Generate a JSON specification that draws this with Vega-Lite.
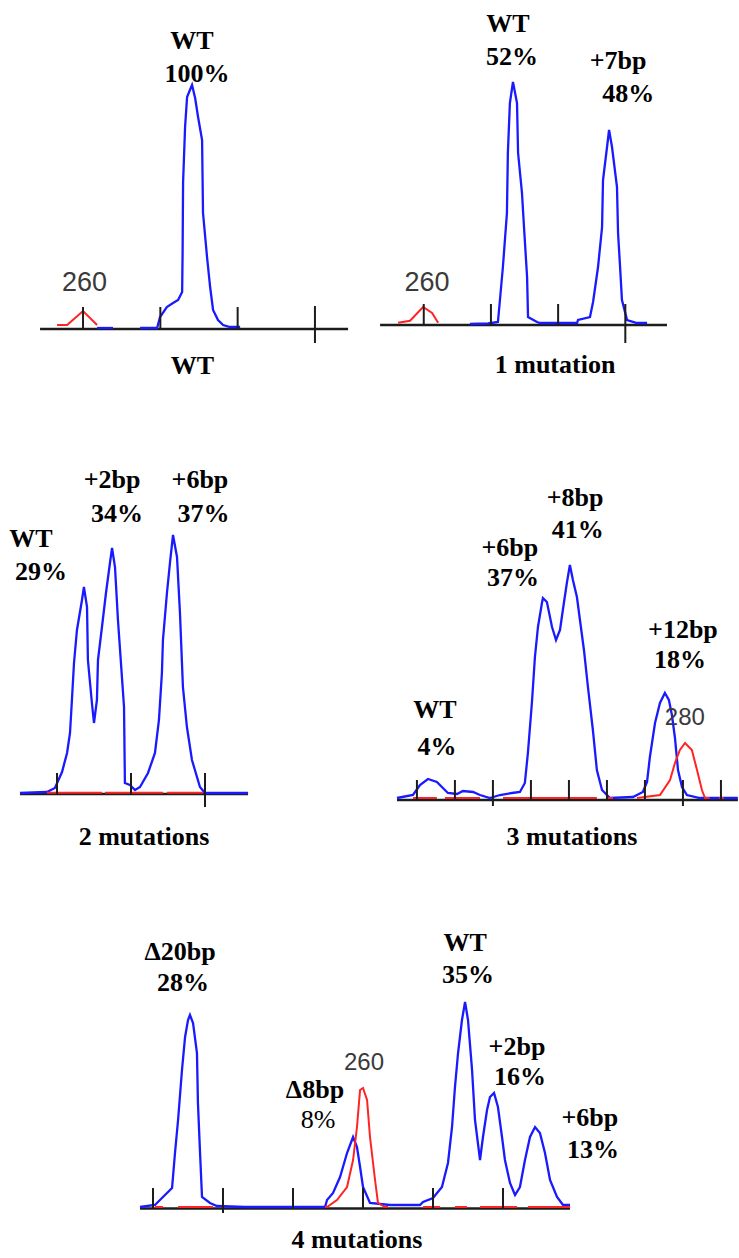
{
  "$schema": "https://vega.github.io/schema/vega-lite/v6.json",
  "padding": 0,
  "spacing": 0,
  "bounds": "flush",
  "columns": 2,
  "config": {"view": {"stroke": null}, "concat": {"spacing": 0}},
  "datasets": {
    "p1": [
      {"kind": "axis", "bp": 257.22, "bp2": 277.14, "rfu": 0},
      {"kind": "tick", "bp": 260, "rfu": 0, "rfu2": 220},
      {"kind": "tick", "bp": 265, "rfu": 0, "rfu2": 220},
      {"kind": "tick", "bp": 270, "rfu": 0, "rfu2": 220},
      {"kind": "tick", "bp": 275, "rfu": -140, "rfu2": 230},
      {"kind": "trace", "dye": "red", "seg": "r1", "bp": 258.32, "rfu": 40},
      {"kind": "trace", "dye": "red", "seg": "r1", "bp": 258.97, "rfu": 40},
      {"kind": "trace", "dye": "red", "seg": "r1", "bp": 260.0, "rfu": 180},
      {"kind": "trace", "dye": "red", "seg": "r1", "bp": 260.91, "rfu": 40},
      {"kind": "trace", "dye": "blue", "seg": "b1a", "bp": 260.91, "rfu": 10},
      {"kind": "trace", "dye": "blue", "seg": "b1a", "bp": 261.94, "rfu": 10},
      {"kind": "trace", "dye": "blue", "seg": "b1b", "bp": 263.69, "rfu": 10},
      {"kind": "trace", "dye": "blue", "seg": "b1b", "bp": 264.79, "rfu": 10},
      {"kind": "trace", "dye": "blue", "seg": "b1b", "bp": 264.98, "rfu": 120},
      {"kind": "trace", "dye": "blue", "seg": "b1b", "bp": 265.42, "rfu": 220},
      {"kind": "trace", "dye": "blue", "seg": "b1b", "bp": 265.82, "rfu": 260},
      {"kind": "trace", "dye": "blue", "seg": "b1b", "bp": 266.15, "rfu": 290},
      {"kind": "trace", "dye": "blue", "seg": "b1b", "bp": 266.41, "rfu": 370},
      {"kind": "trace", "dye": "blue", "seg": "b1b", "bp": 266.44, "rfu": 760},
      {"kind": "trace", "dye": "blue", "seg": "b1b", "bp": 266.47, "rfu": 1460},
      {"kind": "trace", "dye": "blue", "seg": "b1b", "bp": 266.60, "rfu": 2020},
      {"kind": "trace", "dye": "blue", "seg": "b1b", "bp": 266.73, "rfu": 2320},
      {"kind": "trace", "dye": "blue", "seg": "b1b", "bp": 266.86, "rfu": 2370},
      {"kind": "trace", "dye": "blue", "seg": "b1b", "bp": 267.05, "rfu": 2440},
      {"kind": "trace", "dye": "blue", "seg": "b1b", "bp": 267.25, "rfu": 2310},
      {"kind": "trace", "dye": "blue", "seg": "b1b", "bp": 267.44, "rfu": 2120},
      {"kind": "trace", "dye": "blue", "seg": "b1b", "bp": 267.70, "rfu": 1890},
      {"kind": "trace", "dye": "blue", "seg": "b1b", "bp": 267.76, "rfu": 1160},
      {"kind": "trace", "dye": "blue", "seg": "b1b", "bp": 268.02, "rfu": 720},
      {"kind": "trace", "dye": "blue", "seg": "b1b", "bp": 268.22, "rfu": 420},
      {"kind": "trace", "dye": "blue", "seg": "b1b", "bp": 268.41, "rfu": 190},
      {"kind": "trace", "dye": "blue", "seg": "b1b", "bp": 268.73, "rfu": 90},
      {"kind": "trace", "dye": "blue", "seg": "b1b", "bp": 269.06, "rfu": 40},
      {"kind": "trace", "dye": "blue", "seg": "b1b", "bp": 269.51, "rfu": 20},
      {"kind": "trace", "dye": "blue", "seg": "b1b", "bp": 270.16, "rfu": 20},
      {"kind": "std", "bp": 260.1, "rfu": 460, "label": "260"},
      {"kind": "label", "bp": 267.05, "rfu": 2880, "label": "WT"},
      {"kind": "label", "bp": 267.37, "rfu": 2555, "label": "100%"},
      {"kind": "caption", "bp": 267.08, "rfu": -365, "label": "WT"}
    ],
    "p2": [
      {"kind": "axis", "bp": 256.75, "bp2": 278.10, "rfu": 0},
      {"kind": "tick", "bp": 260, "rfu": 0, "rfu2": 210},
      {"kind": "tick", "bp": 265, "rfu": 0, "rfu2": 210},
      {"kind": "tick", "bp": 270, "rfu": 0, "rfu2": 210},
      {"kind": "tick", "bp": 275, "rfu": -180, "rfu2": 210},
      {"kind": "trace", "dye": "red", "seg": "r2", "bp": 258.09, "rfu": 23},
      {"kind": "trace", "dye": "red", "seg": "r2", "bp": 258.98, "rfu": 43},
      {"kind": "trace", "dye": "red", "seg": "r2", "bp": 259.95, "rfu": 180},
      {"kind": "trace", "dye": "red", "seg": "r2", "bp": 260.62, "rfu": 120},
      {"kind": "trace", "dye": "red", "seg": "r2", "bp": 261.07, "rfu": 23},
      {"kind": "trace", "dye": "blue", "seg": "b2", "bp": 263.44, "rfu": 10},
      {"kind": "trace", "dye": "blue", "seg": "b2", "bp": 264.78, "rfu": 15},
      {"kind": "trace", "dye": "blue", "seg": "b2", "bp": 265.52, "rfu": 30},
      {"kind": "trace", "dye": "blue", "seg": "b2", "bp": 265.67, "rfu": 250},
      {"kind": "trace", "dye": "blue", "seg": "b2", "bp": 265.89, "rfu": 580},
      {"kind": "trace", "dye": "blue", "seg": "b2", "bp": 266.19, "rfu": 1120},
      {"kind": "trace", "dye": "blue", "seg": "b2", "bp": 266.26, "rfu": 1720},
      {"kind": "trace", "dye": "blue", "seg": "b2", "bp": 266.41, "rfu": 2220},
      {"kind": "trace", "dye": "blue", "seg": "b2", "bp": 266.64, "rfu": 2430},
      {"kind": "trace", "dye": "blue", "seg": "b2", "bp": 266.94, "rfu": 2220},
      {"kind": "trace", "dye": "blue", "seg": "b2", "bp": 267.02, "rfu": 1720},
      {"kind": "trace", "dye": "blue", "seg": "b2", "bp": 267.31, "rfu": 1320},
      {"kind": "trace", "dye": "blue", "seg": "b2", "bp": 267.46, "rfu": 980},
      {"kind": "trace", "dye": "blue", "seg": "b2", "bp": 267.69, "rfu": 480},
      {"kind": "trace", "dye": "blue", "seg": "b2", "bp": 267.76, "rfu": 80},
      {"kind": "trace", "dye": "blue", "seg": "b2", "bp": 268.43, "rfu": 30},
      {"kind": "trace", "dye": "blue", "seg": "b2", "bp": 268.65, "rfu": 20},
      {"kind": "trace", "dye": "blue", "seg": "b2", "bp": 271.41, "rfu": 20},
      {"kind": "trace", "dye": "blue", "seg": "b2", "bp": 271.48, "rfu": 50},
      {"kind": "trace", "dye": "blue", "seg": "b2", "bp": 272.37, "rfu": 80},
      {"kind": "trace", "dye": "blue", "seg": "b2", "bp": 272.60, "rfu": 230},
      {"kind": "trace", "dye": "blue", "seg": "b2", "bp": 272.97, "rfu": 580},
      {"kind": "trace", "dye": "blue", "seg": "b2", "bp": 273.27, "rfu": 980},
      {"kind": "trace", "dye": "blue", "seg": "b2", "bp": 273.34, "rfu": 1450},
      {"kind": "trace", "dye": "blue", "seg": "b2", "bp": 273.64, "rfu": 1780},
      {"kind": "trace", "dye": "blue", "seg": "b2", "bp": 273.79, "rfu": 1950},
      {"kind": "trace", "dye": "blue", "seg": "b2", "bp": 274.01, "rfu": 1780},
      {"kind": "trace", "dye": "blue", "seg": "b2", "bp": 274.38, "rfu": 1380},
      {"kind": "trace", "dye": "blue", "seg": "b2", "bp": 274.46, "rfu": 920},
      {"kind": "trace", "dye": "blue", "seg": "b2", "bp": 274.61, "rfu": 580},
      {"kind": "trace", "dye": "blue", "seg": "b2", "bp": 274.75, "rfu": 250},
      {"kind": "trace", "dye": "blue", "seg": "b2", "bp": 275.13, "rfu": 50},
      {"kind": "trace", "dye": "blue", "seg": "b2", "bp": 275.87, "rfu": 20},
      {"kind": "trace", "dye": "blue", "seg": "b2", "bp": 276.62, "rfu": 20},
      {"kind": "std", "bp": 260.25, "rfu": 420, "label": "260"},
      {"kind": "label", "bp": 266.27, "rfu": 3010, "label": "WT"},
      {"kind": "label", "bp": 266.57, "rfu": 2680, "label": "52%"},
      {"kind": "label", "bp": 274.46, "rfu": 2645, "label": "+7bp"},
      {"kind": "label", "bp": 275.21, "rfu": 2310, "label": "48%"},
      {"kind": "caption", "bp": 269.77, "rfu": -400, "label": "1 mutation"}
    ],
    "p3": [
      {"kind": "axis", "bp": 262.50, "bp2": 277.91, "rfu": -10},
      {"kind": "tick", "bp": 265, "rfu": -10, "rfu2": 200},
      {"kind": "tick", "bp": 270, "rfu": -10, "rfu2": 200},
      {"kind": "tick", "bp": 275, "rfu": -140, "rfu2": 200},
      {"kind": "trace", "dye": "red", "seg": "r3a", "bp": 264.32, "rfu": 3},
      {"kind": "trace", "dye": "red", "seg": "r3a", "bp": 268.04, "rfu": 3},
      {"kind": "trace", "dye": "red", "seg": "r3b", "bp": 268.24, "rfu": 3},
      {"kind": "trace", "dye": "red", "seg": "r3b", "bp": 272.16, "rfu": 3},
      {"kind": "trace", "dye": "red", "seg": "r3c", "bp": 272.43, "rfu": 3},
      {"kind": "trace", "dye": "red", "seg": "r3c", "bp": 274.86, "rfu": 3},
      {"kind": "trace", "dye": "blue", "seg": "b3", "bp": 262.50, "rfu": 0},
      {"kind": "trace", "dye": "blue", "seg": "b3", "bp": 264.32, "rfu": 10},
      {"kind": "trace", "dye": "blue", "seg": "b3", "bp": 264.86, "rfu": 50},
      {"kind": "trace", "dye": "blue", "seg": "b3", "bp": 265.34, "rfu": 210},
      {"kind": "trace", "dye": "blue", "seg": "b3", "bp": 265.68, "rfu": 400},
      {"kind": "trace", "dye": "blue", "seg": "b3", "bp": 265.88, "rfu": 600},
      {"kind": "trace", "dye": "blue", "seg": "b3", "bp": 266.01, "rfu": 930},
      {"kind": "trace", "dye": "blue", "seg": "b3", "bp": 266.15, "rfu": 1300},
      {"kind": "trace", "dye": "blue", "seg": "b3", "bp": 266.35, "rfu": 1630},
      {"kind": "trace", "dye": "blue", "seg": "b3", "bp": 266.69, "rfu": 1930},
      {"kind": "trace", "dye": "blue", "seg": "b3", "bp": 266.82, "rfu": 2060},
      {"kind": "trace", "dye": "blue", "seg": "b3", "bp": 267.03, "rfu": 1860},
      {"kind": "trace", "dye": "blue", "seg": "b3", "bp": 267.09, "rfu": 1330},
      {"kind": "trace", "dye": "blue", "seg": "b3", "bp": 267.36, "rfu": 900},
      {"kind": "trace", "dye": "blue", "seg": "b3", "bp": 267.50, "rfu": 700},
      {"kind": "trace", "dye": "blue", "seg": "b3", "bp": 267.70, "rfu": 930},
      {"kind": "trace", "dye": "blue", "seg": "b3", "bp": 267.77, "rfu": 1330},
      {"kind": "trace", "dye": "blue", "seg": "b3", "bp": 268.04, "rfu": 1660},
      {"kind": "trace", "dye": "blue", "seg": "b3", "bp": 268.31, "rfu": 2000},
      {"kind": "trace", "dye": "blue", "seg": "b3", "bp": 268.58, "rfu": 2300},
      {"kind": "trace", "dye": "blue", "seg": "b3", "bp": 268.72, "rfu": 2450},
      {"kind": "trace", "dye": "blue", "seg": "b3", "bp": 268.92, "rfu": 2260},
      {"kind": "trace", "dye": "blue", "seg": "b3", "bp": 269.12, "rfu": 1730},
      {"kind": "trace", "dye": "blue", "seg": "b3", "bp": 269.53, "rfu": 860},
      {"kind": "trace", "dye": "blue", "seg": "b3", "bp": 269.59, "rfu": 100},
      {"kind": "trace", "dye": "blue", "seg": "b3", "bp": 269.93, "rfu": 80},
      {"kind": "trace", "dye": "blue", "seg": "b3", "bp": 270.27, "rfu": 30},
      {"kind": "trace", "dye": "blue", "seg": "b3", "bp": 270.61, "rfu": 60},
      {"kind": "trace", "dye": "blue", "seg": "b3", "bp": 271.15, "rfu": 200},
      {"kind": "trace", "dye": "blue", "seg": "b3", "bp": 271.62, "rfu": 400},
      {"kind": "trace", "dye": "blue", "seg": "b3", "bp": 271.89, "rfu": 730},
      {"kind": "trace", "dye": "blue", "seg": "b3", "bp": 272.09, "rfu": 1200},
      {"kind": "trace", "dye": "blue", "seg": "b3", "bp": 272.16, "rfu": 1530},
      {"kind": "trace", "dye": "blue", "seg": "b3", "bp": 272.43, "rfu": 2000},
      {"kind": "trace", "dye": "blue", "seg": "b3", "bp": 272.64, "rfu": 2310},
      {"kind": "trace", "dye": "blue", "seg": "b3", "bp": 272.84, "rfu": 2580},
      {"kind": "trace", "dye": "blue", "seg": "b3", "bp": 273.11, "rfu": 2360},
      {"kind": "trace", "dye": "blue", "seg": "b3", "bp": 273.31, "rfu": 1800},
      {"kind": "trace", "dye": "blue", "seg": "b3", "bp": 273.51, "rfu": 1060},
      {"kind": "trace", "dye": "blue", "seg": "b3", "bp": 273.78, "rfu": 660},
      {"kind": "trace", "dye": "blue", "seg": "b3", "bp": 274.12, "rfu": 330},
      {"kind": "trace", "dye": "blue", "seg": "b3", "bp": 274.66, "rfu": 60},
      {"kind": "trace", "dye": "blue", "seg": "b3", "bp": 275.00, "rfu": 0},
      {"kind": "trace", "dye": "blue", "seg": "b3", "bp": 277.91, "rfu": 0},
      {"kind": "label", "bp": 263.24, "rfu": 2540, "label": "WT"},
      {"kind": "label", "bp": 263.92, "rfu": 2210, "label": "29%"},
      {"kind": "label", "bp": 268.72, "rfu": 3130, "label": "+2bp"},
      {"kind": "label", "bp": 269.05, "rfu": 2790, "label": "34%"},
      {"kind": "label", "bp": 274.66, "rfu": 3130, "label": "+6bp"},
      {"kind": "label", "bp": 274.90, "rfu": 2790, "label": "37%"},
      {"kind": "caption", "bp": 270.88, "rfu": -440, "label": "2 mutations"}
    ],
    "p4": [
      {"kind": "axis", "bp": 264.95, "bp2": 282.89, "rfu": -20},
      {"kind": "tick", "bp": 266, "rfu": -20, "rfu2": 180},
      {"kind": "tick", "bp": 268, "rfu": -20, "rfu2": 180},
      {"kind": "tick", "bp": 270, "rfu": -80, "rfu2": 180},
      {"kind": "tick", "bp": 272, "rfu": -20, "rfu2": 180},
      {"kind": "tick", "bp": 274, "rfu": -20, "rfu2": 180},
      {"kind": "tick", "bp": 276, "rfu": -20, "rfu2": 180},
      {"kind": "tick", "bp": 278, "rfu": -20, "rfu2": 180},
      {"kind": "tick", "bp": 280, "rfu": -80, "rfu2": 180},
      {"kind": "tick", "bp": 282, "rfu": -20, "rfu2": 180},
      {"kind": "trace", "dye": "red", "seg": "r4a", "bp": 265.79, "rfu": 0},
      {"kind": "trace", "dye": "red", "seg": "r4a", "bp": 267.05, "rfu": 0},
      {"kind": "trace", "dye": "red", "seg": "r4b", "bp": 267.47, "rfu": 0},
      {"kind": "trace", "dye": "red", "seg": "r4b", "bp": 269.32, "rfu": 0},
      {"kind": "trace", "dye": "red", "seg": "r4c", "bp": 270.53, "rfu": 0},
      {"kind": "trace", "dye": "red", "seg": "r4c", "bp": 275.47, "rfu": 0},
      {"kind": "trace", "dye": "red", "seg": "r4d", "bp": 276.0, "rfu": 0},
      {"kind": "trace", "dye": "red", "seg": "r4d", "bp": 276.32, "rfu": 0},
      {"kind": "trace", "dye": "red", "seg": "r4e", "bp": 277.58, "rfu": 0},
      {"kind": "trace", "dye": "red", "seg": "r4e", "bp": 278.79, "rfu": 30},
      {"kind": "trace", "dye": "red", "seg": "r4e", "bp": 279.32, "rfu": 180},
      {"kind": "trace", "dye": "red", "seg": "r4e", "bp": 279.58, "rfu": 350},
      {"kind": "trace", "dye": "red", "seg": "r4e", "bp": 279.84, "rfu": 480},
      {"kind": "trace", "dye": "red", "seg": "r4e", "bp": 280.11, "rfu": 550},
      {"kind": "trace", "dye": "red", "seg": "r4e", "bp": 280.47, "rfu": 480},
      {"kind": "trace", "dye": "red", "seg": "r4e", "bp": 280.74, "rfu": 280},
      {"kind": "trace", "dye": "red", "seg": "r4e", "bp": 281.00, "rfu": 80},
      {"kind": "trace", "dye": "red", "seg": "r4e", "bp": 281.16, "rfu": 0},
      {"kind": "trace", "dye": "red", "seg": "r4e", "bp": 281.40, "rfu": 0},
      {"kind": "trace", "dye": "red", "seg": "r4f", "bp": 281.90, "rfu": 0},
      {"kind": "trace", "dye": "red", "seg": "r4f", "bp": 282.15, "rfu": 0},
      {"kind": "trace", "dye": "blue", "seg": "b4", "bp": 264.95, "rfu": 0},
      {"kind": "trace", "dye": "blue", "seg": "b4", "bp": 265.79, "rfu": 30},
      {"kind": "trace", "dye": "blue", "seg": "b4", "bp": 266.16, "rfu": 130},
      {"kind": "trace", "dye": "blue", "seg": "b4", "bp": 266.58, "rfu": 190},
      {"kind": "trace", "dye": "blue", "seg": "b4", "bp": 267.05, "rfu": 160},
      {"kind": "trace", "dye": "blue", "seg": "b4", "bp": 267.63, "rfu": 50},
      {"kind": "trace", "dye": "blue", "seg": "b4", "bp": 268.11, "rfu": 40},
      {"kind": "trace", "dye": "blue", "seg": "b4", "bp": 268.42, "rfu": 70},
      {"kind": "trace", "dye": "blue", "seg": "b4", "bp": 268.95, "rfu": 60},
      {"kind": "trace", "dye": "blue", "seg": "b4", "bp": 269.32, "rfu": 30},
      {"kind": "trace", "dye": "blue", "seg": "b4", "bp": 269.84, "rfu": 0},
      {"kind": "trace", "dye": "blue", "seg": "b4", "bp": 270.37, "rfu": 30},
      {"kind": "trace", "dye": "blue", "seg": "b4", "bp": 271.00, "rfu": 50},
      {"kind": "trace", "dye": "blue", "seg": "b4", "bp": 271.42, "rfu": 60},
      {"kind": "trace", "dye": "blue", "seg": "b4", "bp": 271.68, "rfu": 150},
      {"kind": "trace", "dye": "blue", "seg": "b4", "bp": 271.84, "rfu": 450},
      {"kind": "trace", "dye": "blue", "seg": "b4", "bp": 272.05, "rfu": 950},
      {"kind": "trace", "dye": "blue", "seg": "b4", "bp": 272.21, "rfu": 1410},
      {"kind": "trace", "dye": "blue", "seg": "b4", "bp": 272.37, "rfu": 1710},
      {"kind": "trace", "dye": "blue", "seg": "b4", "bp": 272.58, "rfu": 1950},
      {"kind": "trace", "dye": "blue", "seg": "b4", "bp": 272.63, "rfu": 2000},
      {"kind": "trace", "dye": "blue", "seg": "b4", "bp": 272.84, "rfu": 1960},
      {"kind": "trace", "dye": "blue", "seg": "b4", "bp": 273.11, "rfu": 1710},
      {"kind": "trace", "dye": "blue", "seg": "b4", "bp": 273.32, "rfu": 1580},
      {"kind": "trace", "dye": "blue", "seg": "b4", "bp": 273.53, "rfu": 1680},
      {"kind": "trace", "dye": "blue", "seg": "b4", "bp": 273.68, "rfu": 1880},
      {"kind": "trace", "dye": "blue", "seg": "b4", "bp": 273.89, "rfu": 2150},
      {"kind": "trace", "dye": "blue", "seg": "b4", "bp": 274.05, "rfu": 2330},
      {"kind": "trace", "dye": "blue", "seg": "b4", "bp": 274.21, "rfu": 2180},
      {"kind": "trace", "dye": "blue", "seg": "b4", "bp": 274.42, "rfu": 2010},
      {"kind": "trace", "dye": "blue", "seg": "b4", "bp": 274.58, "rfu": 1780},
      {"kind": "trace", "dye": "blue", "seg": "b4", "bp": 274.79, "rfu": 1480},
      {"kind": "trace", "dye": "blue", "seg": "b4", "bp": 275.00, "rfu": 1110},
      {"kind": "trace", "dye": "blue", "seg": "b4", "bp": 275.26, "rfu": 680},
      {"kind": "trace", "dye": "blue", "seg": "b4", "bp": 275.47, "rfu": 280},
      {"kind": "trace", "dye": "blue", "seg": "b4", "bp": 275.74, "rfu": 80},
      {"kind": "trace", "dye": "blue", "seg": "b4", "bp": 276.16, "rfu": 0},
      {"kind": "trace", "dye": "blue", "seg": "b4", "bp": 277.37, "rfu": 10},
      {"kind": "trace", "dye": "blue", "seg": "b4", "bp": 277.89, "rfu": 60},
      {"kind": "trace", "dye": "blue", "seg": "b4", "bp": 278.11, "rfu": 160},
      {"kind": "trace", "dye": "blue", "seg": "b4", "bp": 278.26, "rfu": 410},
      {"kind": "trace", "dye": "blue", "seg": "b4", "bp": 278.53, "rfu": 750},
      {"kind": "trace", "dye": "blue", "seg": "b4", "bp": 278.79, "rfu": 950},
      {"kind": "trace", "dye": "blue", "seg": "b4", "bp": 279.05, "rfu": 1050},
      {"kind": "trace", "dye": "blue", "seg": "b4", "bp": 279.26, "rfu": 980},
      {"kind": "trace", "dye": "blue", "seg": "b4", "bp": 279.42, "rfu": 830},
      {"kind": "trace", "dye": "blue", "seg": "b4", "bp": 279.58, "rfu": 600},
      {"kind": "trace", "dye": "blue", "seg": "b4", "bp": 279.74, "rfu": 280},
      {"kind": "trace", "dye": "blue", "seg": "b4", "bp": 279.95, "rfu": 110},
      {"kind": "trace", "dye": "blue", "seg": "b4", "bp": 280.21, "rfu": 30},
      {"kind": "trace", "dye": "blue", "seg": "b4", "bp": 280.89, "rfu": 0},
      {"kind": "trace", "dye": "blue", "seg": "b4", "bp": 282.89, "rfu": 0},
      {"kind": "std", "bp": 280.1, "rfu": 800, "label": "280"},
      {"kind": "label", "bp": 266.95, "rfu": 880, "label": "WT"},
      {"kind": "label", "bp": 267.05, "rfu": 510, "label": "4%"},
      {"kind": "label", "bp": 270.89, "rfu": 2500, "label": "+6bp"},
      {"kind": "label", "bp": 271.05, "rfu": 2200, "label": "37%"},
      {"kind": "label", "bp": 274.32, "rfu": 3000, "label": "+8bp"},
      {"kind": "label", "bp": 274.47, "rfu": 2680, "label": "41%"},
      {"kind": "label", "bp": 280.0, "rfu": 1680, "label": "+12bp"},
      {"kind": "label", "bp": 279.84, "rfu": 1380, "label": "18%"},
      {"kind": "caption", "bp": 274.16, "rfu": -390, "label": "3 mutations"}
    ],
    "p5": [
      {"kind": "axis", "bp": 244.07, "bp2": 274.79, "rfu": -15},
      {"kind": "tick", "bp": 245, "rfu": -15, "rfu2": 190},
      {"kind": "tick", "bp": 250, "rfu": -60, "rfu2": 190},
      {"kind": "tick", "bp": 255, "rfu": -15, "rfu2": 190},
      {"kind": "tick", "bp": 260, "rfu": -15, "rfu2": 190},
      {"kind": "tick", "bp": 265, "rfu": -15, "rfu2": 190},
      {"kind": "tick", "bp": 270, "rfu": -15, "rfu2": 190},
      {"kind": "trace", "dye": "red", "seg": "r5a", "bp": 245.14, "rfu": 0},
      {"kind": "trace", "dye": "red", "seg": "r5a", "bp": 245.71, "rfu": 0},
      {"kind": "trace", "dye": "red", "seg": "r5b", "bp": 246.79, "rfu": 0},
      {"kind": "trace", "dye": "red", "seg": "r5b", "bp": 249.29, "rfu": 0},
      {"kind": "trace", "dye": "red", "seg": "r5c", "bp": 257.29, "rfu": 0},
      {"kind": "trace", "dye": "red", "seg": "r5c", "bp": 257.43, "rfu": 0},
      {"kind": "trace", "dye": "red", "seg": "r5c", "bp": 258.14, "rfu": 70},
      {"kind": "trace", "dye": "red", "seg": "r5c", "bp": 258.86, "rfu": 200},
      {"kind": "trace", "dye": "red", "seg": "r5c", "bp": 259.29, "rfu": 470},
      {"kind": "trace", "dye": "red", "seg": "r5c", "bp": 259.57, "rfu": 800},
      {"kind": "trace", "dye": "red", "seg": "r5c", "bp": 259.79, "rfu": 1170},
      {"kind": "trace", "dye": "red", "seg": "r5c", "bp": 260.0, "rfu": 1190},
      {"kind": "trace", "dye": "red", "seg": "r5c", "bp": 260.29, "rfu": 1070},
      {"kind": "trace", "dye": "red", "seg": "r5c", "bp": 260.50, "rfu": 700},
      {"kind": "trace", "dye": "red", "seg": "r5c", "bp": 260.86, "rfu": 270},
      {"kind": "trace", "dye": "red", "seg": "r5c", "bp": 261.07, "rfu": 40},
      {"kind": "trace", "dye": "red", "seg": "r5c", "bp": 261.57, "rfu": 0},
      {"kind": "trace", "dye": "red", "seg": "r5c", "bp": 261.79, "rfu": 0},
      {"kind": "trace", "dye": "red", "seg": "r5d", "bp": 264.29, "rfu": 0},
      {"kind": "trace", "dye": "red", "seg": "r5d", "bp": 265.50, "rfu": 0},
      {"kind": "trace", "dye": "red", "seg": "r5e", "bp": 266.57, "rfu": 0},
      {"kind": "trace", "dye": "red", "seg": "r5e", "bp": 267.43, "rfu": 0},
      {"kind": "trace", "dye": "red", "seg": "r5f", "bp": 268.36, "rfu": 0},
      {"kind": "trace", "dye": "red", "seg": "r5f", "bp": 271.00, "rfu": 0},
      {"kind": "trace", "dye": "red", "seg": "r5g", "bp": 271.79, "rfu": 0},
      {"kind": "trace", "dye": "red", "seg": "r5g", "bp": 274.79, "rfu": 0},
      {"kind": "trace", "dye": "blue", "seg": "b5", "bp": 244.07, "rfu": 0},
      {"kind": "trace", "dye": "blue", "seg": "b5", "bp": 245.14, "rfu": 20},
      {"kind": "trace", "dye": "blue", "seg": "b5", "bp": 245.64, "rfu": 90},
      {"kind": "trace", "dye": "blue", "seg": "b5", "bp": 246.36, "rfu": 190},
      {"kind": "trace", "dye": "blue", "seg": "b5", "bp": 246.57, "rfu": 540},
      {"kind": "trace", "dye": "blue", "seg": "b5", "bp": 246.79, "rfu": 870},
      {"kind": "trace", "dye": "blue", "seg": "b5", "bp": 247.07, "rfu": 1370},
      {"kind": "trace", "dye": "blue", "seg": "b5", "bp": 247.29, "rfu": 1700},
      {"kind": "trace", "dye": "blue", "seg": "b5", "bp": 247.50, "rfu": 1870},
      {"kind": "trace", "dye": "blue", "seg": "b5", "bp": 247.64, "rfu": 1920},
      {"kind": "trace", "dye": "blue", "seg": "b5", "bp": 247.86, "rfu": 1840},
      {"kind": "trace", "dye": "blue", "seg": "b5", "bp": 248.14, "rfu": 1540},
      {"kind": "trace", "dye": "blue", "seg": "b5", "bp": 248.21, "rfu": 1040},
      {"kind": "trace", "dye": "blue", "seg": "b5", "bp": 248.36, "rfu": 540},
      {"kind": "trace", "dye": "blue", "seg": "b5", "bp": 248.50, "rfu": 100},
      {"kind": "trace", "dye": "blue", "seg": "b5", "bp": 249.07, "rfu": 40},
      {"kind": "trace", "dye": "blue", "seg": "b5", "bp": 249.57, "rfu": 10},
      {"kind": "trace", "dye": "blue", "seg": "b5", "bp": 251.57, "rfu": 0},
      {"kind": "trace", "dye": "blue", "seg": "b5", "bp": 257.29, "rfu": 0},
      {"kind": "trace", "dye": "blue", "seg": "b5", "bp": 257.43, "rfu": 70},
      {"kind": "trace", "dye": "blue", "seg": "b5", "bp": 257.86, "rfu": 140},
      {"kind": "trace", "dye": "blue", "seg": "b5", "bp": 258.36, "rfu": 300},
      {"kind": "trace", "dye": "blue", "seg": "b5", "bp": 258.86, "rfu": 540},
      {"kind": "trace", "dye": "blue", "seg": "b5", "bp": 259.29, "rfu": 700},
      {"kind": "trace", "dye": "blue", "seg": "b5", "bp": 259.57, "rfu": 600},
      {"kind": "trace", "dye": "blue", "seg": "b5", "bp": 259.79, "rfu": 400},
      {"kind": "trace", "dye": "blue", "seg": "b5", "bp": 260.00, "rfu": 200},
      {"kind": "trace", "dye": "blue", "seg": "b5", "bp": 260.50, "rfu": 40},
      {"kind": "trace", "dye": "blue", "seg": "b5", "bp": 261.93, "rfu": 20},
      {"kind": "trace", "dye": "blue", "seg": "b5", "bp": 264.07, "rfu": 20},
      {"kind": "trace", "dye": "blue", "seg": "b5", "bp": 264.29, "rfu": 50},
      {"kind": "trace", "dye": "blue", "seg": "b5", "bp": 265.00, "rfu": 90},
      {"kind": "trace", "dye": "blue", "seg": "b5", "bp": 265.64, "rfu": 200},
      {"kind": "trace", "dye": "blue", "seg": "b5", "bp": 266.07, "rfu": 440},
      {"kind": "trace", "dye": "blue", "seg": "b5", "bp": 266.36, "rfu": 800},
      {"kind": "trace", "dye": "blue", "seg": "b5", "bp": 266.57, "rfu": 1200},
      {"kind": "trace", "dye": "blue", "seg": "b5", "bp": 266.79, "rfu": 1540},
      {"kind": "trace", "dye": "blue", "seg": "b5", "bp": 267.07, "rfu": 1870},
      {"kind": "trace", "dye": "blue", "seg": "b5", "bp": 267.29, "rfu": 2050},
      {"kind": "trace", "dye": "blue", "seg": "b5", "bp": 267.50, "rfu": 1870},
      {"kind": "trace", "dye": "blue", "seg": "b5", "bp": 267.79, "rfu": 1370},
      {"kind": "trace", "dye": "blue", "seg": "b5", "bp": 268.00, "rfu": 870},
      {"kind": "trace", "dye": "blue", "seg": "b5", "bp": 268.36, "rfu": 470},
      {"kind": "trace", "dye": "blue", "seg": "b5", "bp": 268.57, "rfu": 700},
      {"kind": "trace", "dye": "blue", "seg": "b5", "bp": 268.86, "rfu": 970},
      {"kind": "trace", "dye": "blue", "seg": "b5", "bp": 269.07, "rfu": 1100},
      {"kind": "trace", "dye": "blue", "seg": "b5", "bp": 269.36, "rfu": 1140},
      {"kind": "trace", "dye": "blue", "seg": "b5", "bp": 269.64, "rfu": 1000},
      {"kind": "trace", "dye": "blue", "seg": "b5", "bp": 269.93, "rfu": 700},
      {"kind": "trace", "dye": "blue", "seg": "b5", "bp": 270.14, "rfu": 470},
      {"kind": "trace", "dye": "blue", "seg": "b5", "bp": 270.50, "rfu": 240},
      {"kind": "trace", "dye": "blue", "seg": "b5", "bp": 270.86, "rfu": 120},
      {"kind": "trace", "dye": "blue", "seg": "b5", "bp": 271.21, "rfu": 200},
      {"kind": "trace", "dye": "blue", "seg": "b5", "bp": 271.57, "rfu": 470},
      {"kind": "trace", "dye": "blue", "seg": "b5", "bp": 271.93, "rfu": 700},
      {"kind": "trace", "dye": "blue", "seg": "b5", "bp": 272.29, "rfu": 800},
      {"kind": "trace", "dye": "blue", "seg": "b5", "bp": 272.64, "rfu": 740},
      {"kind": "trace", "dye": "blue", "seg": "b5", "bp": 273.00, "rfu": 540},
      {"kind": "trace", "dye": "blue", "seg": "b5", "bp": 273.36, "rfu": 270},
      {"kind": "trace", "dye": "blue", "seg": "b5", "bp": 273.86, "rfu": 100},
      {"kind": "trace", "dye": "blue", "seg": "b5", "bp": 274.29, "rfu": 20},
      {"kind": "trace", "dye": "blue", "seg": "b5", "bp": 274.79, "rfu": 20},
      {"kind": "std", "bp": 260.07, "rfu": 1440, "label": "260"},
      {"kind": "label", "bp": 246.93, "rfu": 2550, "label": "Δ20bp"},
      {"kind": "label", "bp": 247.14, "rfu": 2240, "label": "28%"},
      {"kind": "label", "bp": 256.57, "rfu": 1170, "label": "Δ8bp"},
      {"kind": "label_plain", "bp": 256.79, "rfu": 870, "label": "8%"},
      {"kind": "label", "bp": 267.29, "rfu": 2640, "label": "WT"},
      {"kind": "label", "bp": 267.50, "rfu": 2320, "label": "35%"},
      {"kind": "label", "bp": 271.00, "rfu": 1600, "label": "+2bp"},
      {"kind": "label", "bp": 271.21, "rfu": 1300, "label": "16%"},
      {"kind": "label", "bp": 276.21, "rfu": 890, "label": "+6bp"},
      {"kind": "label", "bp": 276.43, "rfu": 570, "label": "13%"},
      {"kind": "caption", "bp": 259.57, "rfu": -330, "label": "4 mutations"}
    ]
  },
  "concat": [
    {
      "width": 370, "height": 390,
      "data": {"name": "p1"},
      "encoding": {
        "x": {"field": "bp", "type": "quantitative", "scale": {"domain": [254.63, 278.56], "nice": false, "zero": false}, "axis": null},
        "y": {"field": "rfu", "type": "quantitative", "scale": {"domain": [-610, 3290], "nice": false, "zero": false}, "axis": null}
      },
      "layer": [
        {"transform": [{"filter": "datum.kind === 'axis'"}], "mark": {"type": "rule", "color": "#1c1c1c", "strokeWidth": 2.5}, "encoding": {"x2": {"field": "bp2"}}},
        {"transform": [{"filter": "datum.kind === 'trace' && datum.dye === 'blue'"}], "mark": {"type": "line", "strokeWidth": 2.3}, "encoding": {"detail": {"field": "seg", "type": "nominal"}, "color": {"field": "dye", "type": "nominal", "scale": {"domain": ["blue", "red"], "range": ["#1a1aff", "#ff2424"]}, "legend": null}}},
        {"transform": [{"filter": "datum.kind === 'trace' && datum.dye === 'red'"}], "mark": {"type": "line", "strokeWidth": 2}, "encoding": {"detail": {"field": "seg", "type": "nominal"}, "color": {"field": "dye", "type": "nominal", "scale": {"domain": ["blue", "red"], "range": ["#1a1aff", "#ff2424"]}, "legend": null}}},
        {"transform": [{"filter": "datum.kind === 'tick'"}], "mark": {"type": "rule", "color": "#1c1c1c", "strokeWidth": 2}, "encoding": {"y2": {"field": "rfu2"}}},
        {"transform": [{"filter": "datum.kind === 'label' || datum.kind === 'caption'"}], "mark": {"type": "text", "font": "Liberation Serif", "fontWeight": "bold", "fontSize": 26, "baseline": "middle", "color": "#000000"}, "encoding": {"text": {"field": "label"}}},
        {"transform": [{"filter": "datum.kind === 'std'"}], "mark": {"type": "text", "font": "Liberation Sans", "fontSize": 27, "baseline": "middle", "color": "#3a3a3a"}, "encoding": {"text": {"field": "label"}}}
      ]
    },
    {
      "width": 369, "height": 390,
      "data": {"name": "p2"},
      "encoding": {
        "x": {"field": "bp", "type": "quantitative", "scale": {"domain": [256.0, 283.46], "nice": false, "zero": false}, "axis": null},
        "y": {"field": "rfu", "type": "quantitative", "scale": {"domain": [-650, 3250], "nice": false, "zero": false}, "axis": null}
      },
      "layer": [
        {"transform": [{"filter": "datum.kind === 'axis'"}], "mark": {"type": "rule", "color": "#1c1c1c", "strokeWidth": 2.5}, "encoding": {"x2": {"field": "bp2"}}},
        {"transform": [{"filter": "datum.kind === 'trace' && datum.dye === 'blue'"}], "mark": {"type": "line", "strokeWidth": 2.3}, "encoding": {"detail": {"field": "seg", "type": "nominal"}, "color": {"field": "dye", "type": "nominal", "scale": {"domain": ["blue", "red"], "range": ["#1a1aff", "#ff2424"]}, "legend": null}}},
        {"transform": [{"filter": "datum.kind === 'trace' && datum.dye === 'red'"}], "mark": {"type": "line", "strokeWidth": 2}, "encoding": {"detail": {"field": "seg", "type": "nominal"}, "color": {"field": "dye", "type": "nominal", "scale": {"domain": ["blue", "red"], "range": ["#1a1aff", "#ff2424"]}, "legend": null}}},
        {"transform": [{"filter": "datum.kind === 'tick'"}], "mark": {"type": "rule", "color": "#1c1c1c", "strokeWidth": 2}, "encoding": {"y2": {"field": "rfu2"}}},
        {"transform": [{"filter": "datum.kind === 'label' || datum.kind === 'caption'"}], "mark": {"type": "text", "font": "Liberation Serif", "fontWeight": "bold", "fontSize": 26, "baseline": "middle", "color": "#000000"}, "encoding": {"text": {"field": "label"}}},
        {"transform": [{"filter": "datum.kind === 'std'"}], "mark": {"type": "text", "font": "Liberation Sans", "fontSize": 27, "baseline": "middle", "color": "#3a3a3a"}, "encoding": {"text": {"field": "label"}}}
      ]
    },
    {
      "width": 370, "height": 470,
      "data": {"name": "p3"},
      "encoding": {
        "x": {"field": "bp", "type": "quantitative", "scale": {"domain": [261.15, 286.15], "nice": false, "zero": false}, "axis": null},
        "y": {"field": "rfu", "type": "quantitative", "scale": {"domain": [-670, 4030], "nice": false, "zero": false}, "axis": null}
      },
      "layer": [
        {"transform": [{"filter": "datum.kind === 'axis'"}], "mark": {"type": "rule", "color": "#1c1c1c", "strokeWidth": 2.5}, "encoding": {"x2": {"field": "bp2"}}},
        {"transform": [{"filter": "datum.kind === 'trace' && datum.dye === 'blue'"}], "mark": {"type": "line", "strokeWidth": 2.3}, "encoding": {"detail": {"field": "seg", "type": "nominal"}, "color": {"field": "dye", "type": "nominal", "scale": {"domain": ["blue", "red"], "range": ["#1a1aff", "#ff2424"]}, "legend": null}}},
        {"transform": [{"filter": "datum.kind === 'trace' && datum.dye === 'red'"}], "mark": {"type": "line", "strokeWidth": 2}, "encoding": {"detail": {"field": "seg", "type": "nominal"}, "color": {"field": "dye", "type": "nominal", "scale": {"domain": ["blue", "red"], "range": ["#1a1aff", "#ff2424"]}, "legend": null}}},
        {"transform": [{"filter": "datum.kind === 'tick'"}], "mark": {"type": "rule", "color": "#1c1c1c", "strokeWidth": 2}, "encoding": {"y2": {"field": "rfu2"}}},
        {"transform": [{"filter": "datum.kind === 'label' || datum.kind === 'caption'"}], "mark": {"type": "text", "font": "Liberation Serif", "fontWeight": "bold", "fontSize": 26, "baseline": "middle", "color": "#000000"}, "encoding": {"text": {"field": "label"}}}
      ]
    },
    {
      "width": 369, "height": 470,
      "data": {"name": "p4"},
      "encoding": {
        "x": {"field": "bp", "type": "quantitative", "scale": {"domain": [263.53, 282.95], "nice": false, "zero": false}, "axis": null},
        "y": {"field": "rfu", "type": "quantitative", "scale": {"domain": [-620, 4080], "nice": false, "zero": false}, "axis": null}
      },
      "layer": [
        {"transform": [{"filter": "datum.kind === 'axis'"}], "mark": {"type": "rule", "color": "#1c1c1c", "strokeWidth": 2.5}, "encoding": {"x2": {"field": "bp2"}}},
        {"transform": [{"filter": "datum.kind === 'trace' && datum.dye === 'blue'"}], "mark": {"type": "line", "strokeWidth": 2.3}, "encoding": {"detail": {"field": "seg", "type": "nominal"}, "color": {"field": "dye", "type": "nominal", "scale": {"domain": ["blue", "red"], "range": ["#1a1aff", "#ff2424"]}, "legend": null}}},
        {"transform": [{"filter": "datum.kind === 'trace' && datum.dye === 'red'"}], "mark": {"type": "line", "strokeWidth": 2}, "encoding": {"detail": {"field": "seg", "type": "nominal"}, "color": {"field": "dye", "type": "nominal", "scale": {"domain": ["blue", "red"], "range": ["#1a1aff", "#ff2424"]}, "legend": null}}},
        {"transform": [{"filter": "datum.kind === 'tick'"}], "mark": {"type": "rule", "color": "#1c1c1c", "strokeWidth": 2}, "encoding": {"y2": {"field": "rfu2"}}},
        {"transform": [{"filter": "datum.kind === 'label' || datum.kind === 'caption'"}], "mark": {"type": "text", "font": "Liberation Serif", "fontWeight": "bold", "fontSize": 26, "baseline": "middle", "color": "#000000"}, "encoding": {"text": {"field": "label"}}},
        {"transform": [{"filter": "datum.kind === 'std'"}], "mark": {"type": "text", "font": "Liberation Sans", "fontSize": 24, "baseline": "middle", "color": "#3a3a3a"}, "encoding": {"text": {"field": "label"}}}
      ]
    },
    {
      "width": 370, "height": 398,
      "data": {"name": "p5"},
      "encoding": {
        "x": {"field": "bp", "type": "quantitative", "scale": {"domain": [234.07, 260.5], "nice": false, "zero": false}, "axis": null},
        "y": {"field": "rfu", "type": "quantitative", "scale": {"domain": [-510, 3470], "nice": false, "zero": false}, "axis": null}
      },
      "layer": [
        {"transform": [{"filter": "datum.kind === 'axis'"}], "mark": {"type": "rule", "color": "#1c1c1c", "strokeWidth": 2.5}, "encoding": {"x2": {"field": "bp2"}}},
        {"transform": [{"filter": "datum.kind === 'trace' && datum.dye === 'blue'"}], "mark": {"type": "line", "strokeWidth": 2.3}, "encoding": {"detail": {"field": "seg", "type": "nominal"}, "color": {"field": "dye", "type": "nominal", "scale": {"domain": ["blue", "red"], "range": ["#1a1aff", "#ff2424"]}, "legend": null}}},
        {"transform": [{"filter": "datum.kind === 'trace' && datum.dye === 'red'"}], "mark": {"type": "line", "strokeWidth": 2}, "encoding": {"detail": {"field": "seg", "type": "nominal"}, "color": {"field": "dye", "type": "nominal", "scale": {"domain": ["blue", "red"], "range": ["#1a1aff", "#ff2424"]}, "legend": null}}},
        {"transform": [{"filter": "datum.kind === 'tick'"}], "mark": {"type": "rule", "color": "#1c1c1c", "strokeWidth": 2}, "encoding": {"y2": {"field": "rfu2"}}},
        {"transform": [{"filter": "datum.kind === 'label' || datum.kind === 'caption'"}], "mark": {"type": "text", "font": "Liberation Serif", "fontWeight": "bold", "fontSize": 26, "baseline": "middle", "color": "#000000"}, "encoding": {"text": {"field": "label"}}},
        {"transform": [{"filter": "datum.kind === 'label_plain'"}], "mark": {"type": "text", "font": "Liberation Serif", "fontWeight": "normal", "fontSize": 26, "baseline": "middle", "color": "#000000"}, "encoding": {"text": {"field": "label"}}},
        {"transform": [{"filter": "datum.kind === 'std'"}], "mark": {"type": "text", "font": "Liberation Sans", "fontSize": 24, "baseline": "middle", "color": "#3a3a3a"}, "encoding": {"text": {"field": "label"}}}
      ]
    }
  ]
}
